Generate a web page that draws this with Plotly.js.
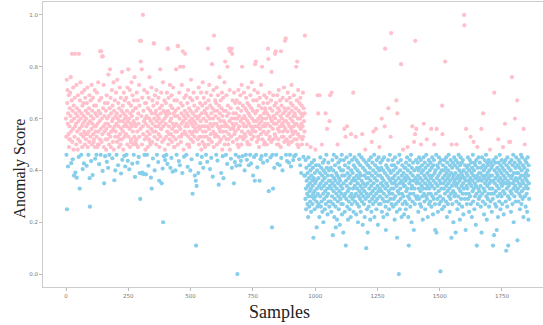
<!DOCTYPE html>
<html><head><meta charset="utf-8">
<script src="https://cdn.plot.ly/plotly-3.0.1.min.js"></script>
<style>html,body{margin:0;padding:0;background:#fff;overflow:hidden}#chart{width:543px;height:325px}</style>
</head><body><div id="chart"></div>
<script>
// Anomaly scores, samples 0-959 (high-score regime)
const scoresEarly = [
.60,.53,.46,.75,.25,.66,.71,.58,.415,.62,.54,.69,.49,.52,.57,.64,.52,.70,.61,.76,.55,.428,.59,.67,.85,.51,.63,.443,.56,.72,.48,.65,.38,.60,.53,.68,.85,.57,.392,.62,
.58,.50,.73,.372,.64,.55,.61,.48,.69,.52,.59,.452,.85,.63,.56,.33,.67,.51,.74,.60,.54,.46,.62,.57,.70,.49,.65,.405,.58,.53,.66,.61,.427,.55,.71,.59,.50,.68,.54,.63,
.52,.60,.57,.418,.66,.54,.72,.49,.62,.58,.46,.55,.64,.51,.69,.37,.26,.59,.53,.67,.61,.436,.56,.73,.50,.63,.58,.382,.68,.54,.60,.51,.52,.65,.57,.71,.49,.445,.62,.55,
.57,.65,.46,.53,.70,.61,.49,.58,.50,.74,.55,.63,.50,.424,.67,.59,.52,.86,.62,.46,.56,.86,.68,.51,.60,.84,.54,.398,.84,.64,.57,.73,.49,.35,.61,.55,.66,.455,.58,.52,
.63,.48,.56,.69,.433,.60,.52,.66,.58,.41,.77,.54,.61,.50,.46,.64,.57,.79,.53,.68,.49,.62,.55,.55,.71,.59,.447,.65,.51,.60,.56,.74,.48,.63,.362,.57,.67,.53,.40,.61,
.55,.70,.58,.46,.62,.51,.75,.60,.53,.42,.66,.57,.49,.64,.59,.52,.72,.54,.61,.50,.68,.388,.56,.63,.52,.78,.441,.59,.65,.55,.48,.62,.70,.57,.456,.53,.67,.60,.415,.58,
.61,.54,.68,.46,.57,.63,.50,.72,.437,.59,.79,.53,.66,.60,.404,.56,.71,.49,.62,.58,.51,.65,.52,.74,.57,.61,.426,.69,.55,.63,.50,.59,.46,.67,.53,.76,.58,.375,.64,.51,
.57,.64,.50,.52,.70,.60,.55,.43,.67,.49,.62,.58,.452,.73,.53,.65,.39,.90,.29,.56,.82,.90,.61,.388,.79,.50,.68,.392,.57,1,.54,.63,.386,.59,.71,.46,.52,.66,.60,.48,
.58,.385,.66,.53,.61,.46,.70,.55,.49,.64,.57,.418,.68,.52,.60,.76,.54,.51,.63,.50,.59,.372,.56,.72,.33,.62,.51,.67,.58,.446,.55,.65,.89,.89,.60,.53,.40,.69,.57,.62,
.55,.63,.50,.71,.59,.46,.66,.52,.61,.57,.432,.68,.54,.60,.36,.49,.64,.58,.79,.53,.62,.56,.70,.56,.35,.65,.51,.59,.407,.74,.20,.57,.63,.455,.52,.67,.60,.48,.44,.62,
.58,.66,.53,.46,.61,.70,.55,.425,.87,.63,.87,.50,.68,.57,.54,.62,.52,.73,.59,.41,.65,.54,.60,.448,.69,.51,.56,.64,.395,.58,.72,.53,.62,.49,.57,.67,.49,.61,.55,.40,
.63,.52,.79,.58,.46,.67,.55,.61,.88,.50,.88,.64,.57,.436,.70,.53,.60,.42,.80,.56,.66,.51,.53,.62,.58,.73,.54,.39,.65,.86,.59,.80,.48,.61,.453,.68,.55,.63,.85,.57,
.60,.54,.69,.46,.58,.62,.50,.66,.414,.57,.71,.53,.61,.50,.64,.49,.59,.55,.68,.40,.63,.52,.75,.58,.443,.60,.54,.67,.31,.62,.51,.57,.70,.55,.59,.65,.53,.38,.61,.56,
.58,.36,.11,.63,.34,.55,.68,.46,.60,.52,.64,.39,.57,.72,.50,.61,.53,.56,.66,.428,.59,.53,.70,.48,.62,.452,.57,.65,.51,.74,.55,.41,.60,.68,.53,.50,.63,.57,.49,.66,
.55,.62,.46,.59,.70,.53,.64,.433,.57,.61,.87,.50,.67,.52,.56,.73,.52,.60,.405,.65,.58,.54,.69,.448,.62,.51,.81,.57,.64,.376,.60,.55,.71,.49,.92,.58,.63,.54,.53,.67,
.61,.54,.66,.46,.58,.72,.50,.63,.438,.57,.69,.53,.60,.345,.65,.56,.76,.51,.62,.55,.59,.67,.52,.39,.64,.57,.70,.48,.61,.455,.55,.68,.37,.59,.63,.53,.74,.50,.57,.82,
.58,.63,.46,.55,.69,.52,.61,.425,.80,.57,.65,.50,.52,.62,.54,.87,.59,.71,.48,.86,.56,.64,.445,.53,.60,.87,.41,.85,.58,.67,.51,.56,.62,.57,.35,.70,.54,.60,.432,.66,
.55,.46,.62,.58,.418,.67,.52,.60,0,.50,.64,.56,.71,.49,.452,.61,.57,.66,.42,.53,.69,.59,.437,.63,.50,.73,.55,.80,.60,.455,.65,.52,.58,.53,.70,.57,.61,.40,.54,.64,
.60,.53,.46,.68,.57,.63,.441,.51,.66,.59,.50,.72,.55,.62,.42,.58,.65,.50,.61,.46,.69,.54,.57,.427,.64,.52,.74,.60,.55,.56,.63,.38,.67,.53,.59,.452,.71,.57,.36,.81,
.62,.55,.82,.46,.59,.67,.51,.63,.412,.57,.70,.53,.60,.52,.65,.49,.58,.36,.68,.56,.61,.443,.54,.73,.59,.455,.64,.80,.52,.60,.57,.43,.66,.55,.62,.50,.69,.51,.58,.64,
.57,.63,.46,.60,.54,.68,.50,.62,.437,.58,.66,.87,.83,.55,.32,.61,.52,.70,.53,.64,.57,.45,.60,.67,.51,.78,.59,.18,.63,.46,.56,.33,.69,.52,.61,.58,.41,.65,.54,.85,
.60,.53,.86,.66,.46,.58,.62,.50,.69,.425,.56,.64,.52,.50,.71,.59,.55,.63,.42,.67,.57,.61,.49,.86,.448,.65,.53,.60,.58,.40,.68,.55,.62,.53,.57,.72,.51,.64,.59,.90,
.56,.63,.91,.46,.59,.52,.67,.436,.61,.55,.70,.51,.58,.64,.50,.43,.62,.57,.68,.46,.53,.60,.66,.415,.56,.73,.51,.63,.55,.59,.65,.54,.44,.61,.57,.69,.455,.52,.62,.58,
.61,.55,.46,.64,.80,.58,.52,.67,.82,.50,.60,.54,.71,.49,.63,.57,.443,.66,.53,.60,.42,.68,.56,.62,.39,.58,.65,.50,.52,.61,.57,.70,.53,.452,.64,.59,.38,.55,.62,.92
];
// Anomaly scores, samples 960-1859 (low-score regime)
const scoresLate = [
.38,.29,.44,.33,.25,.41,.36,.50,.31,.27,.39,.34,.22,.45,.30,.37,.26,.42,.32,.35,.28,.40,.49,.33,.24,.38,.30,.43,.36,.27,.34,.41,.31,.14,.37,.29,.44,.32,.25,.39,.35,.48,.30,.42,.36,.28,.18,.33,.40,.26,
.69,.31,.62,.37,.27,.42,.34,.22,.69,.39,.30,.45,.35,.26,.41,.33,.28,.50,.38,.24,.36,.43,.31,.20,.40,.34,.29,.44,.37,.25,.32,.39,.62,.27,.35,.46,.30,.41,.56,.33,.23,.38,.31,.43,.28,.36,.40,.26,.59,.34,
.69,.36,.28,.41,.33,.24,.70,.38,.30,.44,.35,.15,.27,.40,.32,.46,.37,.22,.34,.29,.42,.36,.26,.18,.39,.31,.45,.33,.21,.38,.50,.28,.35,.43,.30,.25,.37,.41,.32,.19,.36,.44,.29,.34,.40,.27,.31,.46,.23,.38,
.33,.27,.40,.16,.35,.44,.30,.56,.38,.24,.42,.31,.53,.11,.36,.29,.45,.34,.57,.26,.39,.32,.21,.41,.37,.28,.43,.33,.25,.38,.30,.46,.35,.22,.54,.40,.31,.27,.44,.36,.29,.39,.33,.70,.24,.42,.37,.30,.45,.34,
.28,.41,.36,.53,.31,.23,.44,.38,.33,.27,.40,.35,.20,.43,.30,.37,.26,.46,.32,.39,.29,.42,.34,.24,.38,.31,.45,.36,.28,.54,.33,.19,.41,.35,.30,.44,.27,.38,.32,.22,.40,.48,.34,.29,.43,.10,.37,.31,.25,.39,
.35,.16,.42,.30,.37,.26,.44,.33,.39,.28,.41,.21,.36,.31,.45,.34,.24,.51,.38,.29,.43,.32,.27,.40,.55,.35,.30,.46,.22,.37,.33,.42,.28,.39,.56,.31,.25,.44,.36,.29,.41,.34,.19,.38,.32,.45,.27,.40,.49,.33,
.30,.38,.43,.27,.35,.41,.32,.60,.24,.37,.44,.29,.34,.40,.22,.36,.31,.45,.28,.57,.39,.87,.33,.26,.17,.42,.35,.30,.38,.23,.41,.34,.28,.44,.64,.32,.37,.25,.40,.31,.46,.36,.29,.53,.39,.93,.33,.27,.42,.35,
.31,.44,.37,.26,.40,.33,.29,.42,.35,.21,.38,.45,.30,.36,.27,.41,.67,.34,.24,.14,.62,.39,.32,.43,.28,.37,0,.31,.46,.35,.25,.40,.33,.29,.44,.81,.36,.22,.38,.31,.42,.27,.35,.48,.30,.39,.34,.23,.41,.37,
.34,.28,.41,.36,.25,.43,.32,.38,.27,.45,.33,.49,.40,.30,.22,.37,.11,.42,.35,.29,.44,.31,.26,.39,.36,.46,.33,.20,.41,.34,.57,.28,.38,.43,.31,.36,.17,.51,.40,.33,.27,.54,.90,.37,.30,.44,.56,.35,.29,.41,
.36,.30,.43,.38,.24,.40,.33,.45,.29,.35,.41,.27,.37,.32,.44,.50,.26,.39,.34,.42,.30,.36,.21,.40,.33,.45,.58,.31,.38,.28,.43,.35,.25,.41,.37,.30,.46,.33,.52,.29,.39,.34,.22,.42,.36,.31,.44,.27,.38,.33,
.40,.35,.28,.43,.31,.37,.56,.26,.41,.34,.45,.30,.38,.23,.42,.36,.29,.44,.50,.33,.39,.27,.17,.40,.35,.31,.46,.16,.56,.37,.42,.29,.34,.24,.41,.38,.32,.45,.27,.36,.43,.30,.39,.01,.35,.28,.44,.33,.40,.25,
.65,.54,.37,.42,.29,.35,.40,.33,.26,.44,.38,.31,.82,.36,.41,.28,.45,.34,.39,.22,.43,.32,.37,.27,.40,.35,.46,.30,.38,.33,.24,.42,.36,.29,.44,.31,.39,.14,.50,.34,.41,.27,.37,.43,.32,.20,.38,.35,.45,.30,
.36,.42,.31,.39,.16,.44,.34,.28,.50,.37,.41,.25,.35,.43,.30,.38,.46,.33,.27,.40,.36,.21,.42,.32,.45,.37,.29,.39,.34,.43,.26,.38,.31,.44,.35,.23,.40,.33,1,.96,.37,.29,.42,.36,.17,.31,.56,.39,.34,.27,
.41,.33,.38,.45,.29,.36,.42,.31,.24,.40,.35,.44,.30,.37,.53,.27,.43,.34,.39,.22,.41,.36,.32,.46,.28,.38,.51,.33,.40,.25,.43,.35,.30,.42,.37,.19,.34,.44,.31,.11,.38,.49,.27,.41,.36,.33,.45,.29,.39,.32,
.37,.43,.30,.39,.34,.26,.41,.56,.16,.36,.45,.31,.38,.28,.62,.42,.33,.40,.23,.37,.44,.32,.35,.27,.41,.38,.46,.30,.36,.21,.43,.34,.39,.29,.42,.31,.37,.44,.26,.40,.35,.33,.48,.38,.28,.43,.36,.31,.41,.24,
.38,.33,.42,.29,.11,.36,.44,.31,.15,.70,.40,.35,.27,.43,.37,.32,.45,.26,.39,.17,.34,.41,.30,.38,.22,.52,.36,.43,.33,.28,.40,.46,.31,.37,.25,.42,.35,.39,.30,.44,.34,.27,.41,.36,.49,.32,.38,.23,.43,.35,
.40,.31,.58,.37,.44,.28,.35,.09,.42,.33,.39,.26,.45,.36,.30,.11,.41,.34,.38,.51,.29,.43,.35,.51,.32,.40,.24,.37,.44,.31,.76,.38,.27,.42,.35,.46,.33,.20,.39,.36,.30,.43,.60,.34,.41,.28,.37,.45,.32,.39,
.36,.67,.13,.42,.33,.39,.28,.44,.35,.31,.41,.37,.25,.43,.34,.30,.46,.38,.27,.40,.32,.45,.36,.29,.42,.35,.22,.56,.38,.33,.41,.50,.30,.44,.37,.26,.39,.34,.43,.31,.36,.24,.40,.45,.33,.38,.21,.42,.35,.29
];
const threshold = 0.47;
const xTickVals = [0, 250, 500, 750, 1000, 1250, 1500, 1750];
const yTickVals = [0, 0.2, 0.4, 0.6, 0.8, 1.0];
const yTickText = ['0.0', '0.2', '0.4', '0.6', '0.8', '1.0'];

const scores = scoresEarly.concat(scoresLate);
const nx = [], ny = [], ax = [], ay = [];
scores.forEach((v, i) => {
  if (v >= threshold) { ax.push(i); ay.push(v); } else { nx.push(i); ny.push(v); }
});

const marker = (c) => ({color: c, size: 4.2, line: {width: 0}});
const traces = [
  {x: nx, y: ny, type: 'scatter', mode: 'markers', marker: marker('#87CEEB'), hoverinfo: 'none'},
  {x: ax, y: ay, type: 'scatter', mode: 'markers', marker: marker('#FFC0CB'), hoverinfo: 'none'}
];
const tickFont = {family: 'DejaVu Sans, sans-serif', size: 5.5, color: '#777'};
const titleFont = {family: 'Liberation Serif, serif', color: '#222'};
const layout = {
  width: 543, height: 325,
  margin: {l: 43, r: 0, t: 2, b: 38},
  paper_bgcolor: '#fff', plot_bgcolor: '#fff',
  showlegend: false,
  xaxis: {
    range: [-92.3, 1914.6], tickvals: xTickVals, ticks: 'outside', ticklen: 3, tickcolor: '#bbb',
    tickfont: tickFont, showline: true, linecolor: '#ccc', linewidth: 1, mirror: true,
    showgrid: false, zeroline: false
  },
  yaxis: {
    range: [-0.05, 1.05], tickvals: yTickVals, ticktext: yTickText, ticks: 'outside', ticklen: 3, tickcolor: '#bbb',
    tickfont: tickFont, showline: true, linecolor: '#ccc', linewidth: 1, mirror: false,
    showgrid: false, zeroline: false
  },
  annotations: [
    {text: 'Samples', xref: 'paper', yref: 'paper', x: 0.472, y: 0, xanchor: 'center', yanchor: 'middle',
     yshift: -25, showarrow: false, font: Object.assign({size: 18}, titleFont)},
    {text: 'Anomaly Score', xref: 'paper', yref: 'paper', x: 0, y: 0.5, xanchor: 'center', yanchor: 'middle',
     xshift: -24, yshift: -24, textangle: -90, showarrow: false, font: Object.assign({size: 16}, titleFont)}
  ]
};
Plotly.newPlot('chart', traces, layout, {staticPlot: true, displayModeBar: false});
</script>
</body></html>
